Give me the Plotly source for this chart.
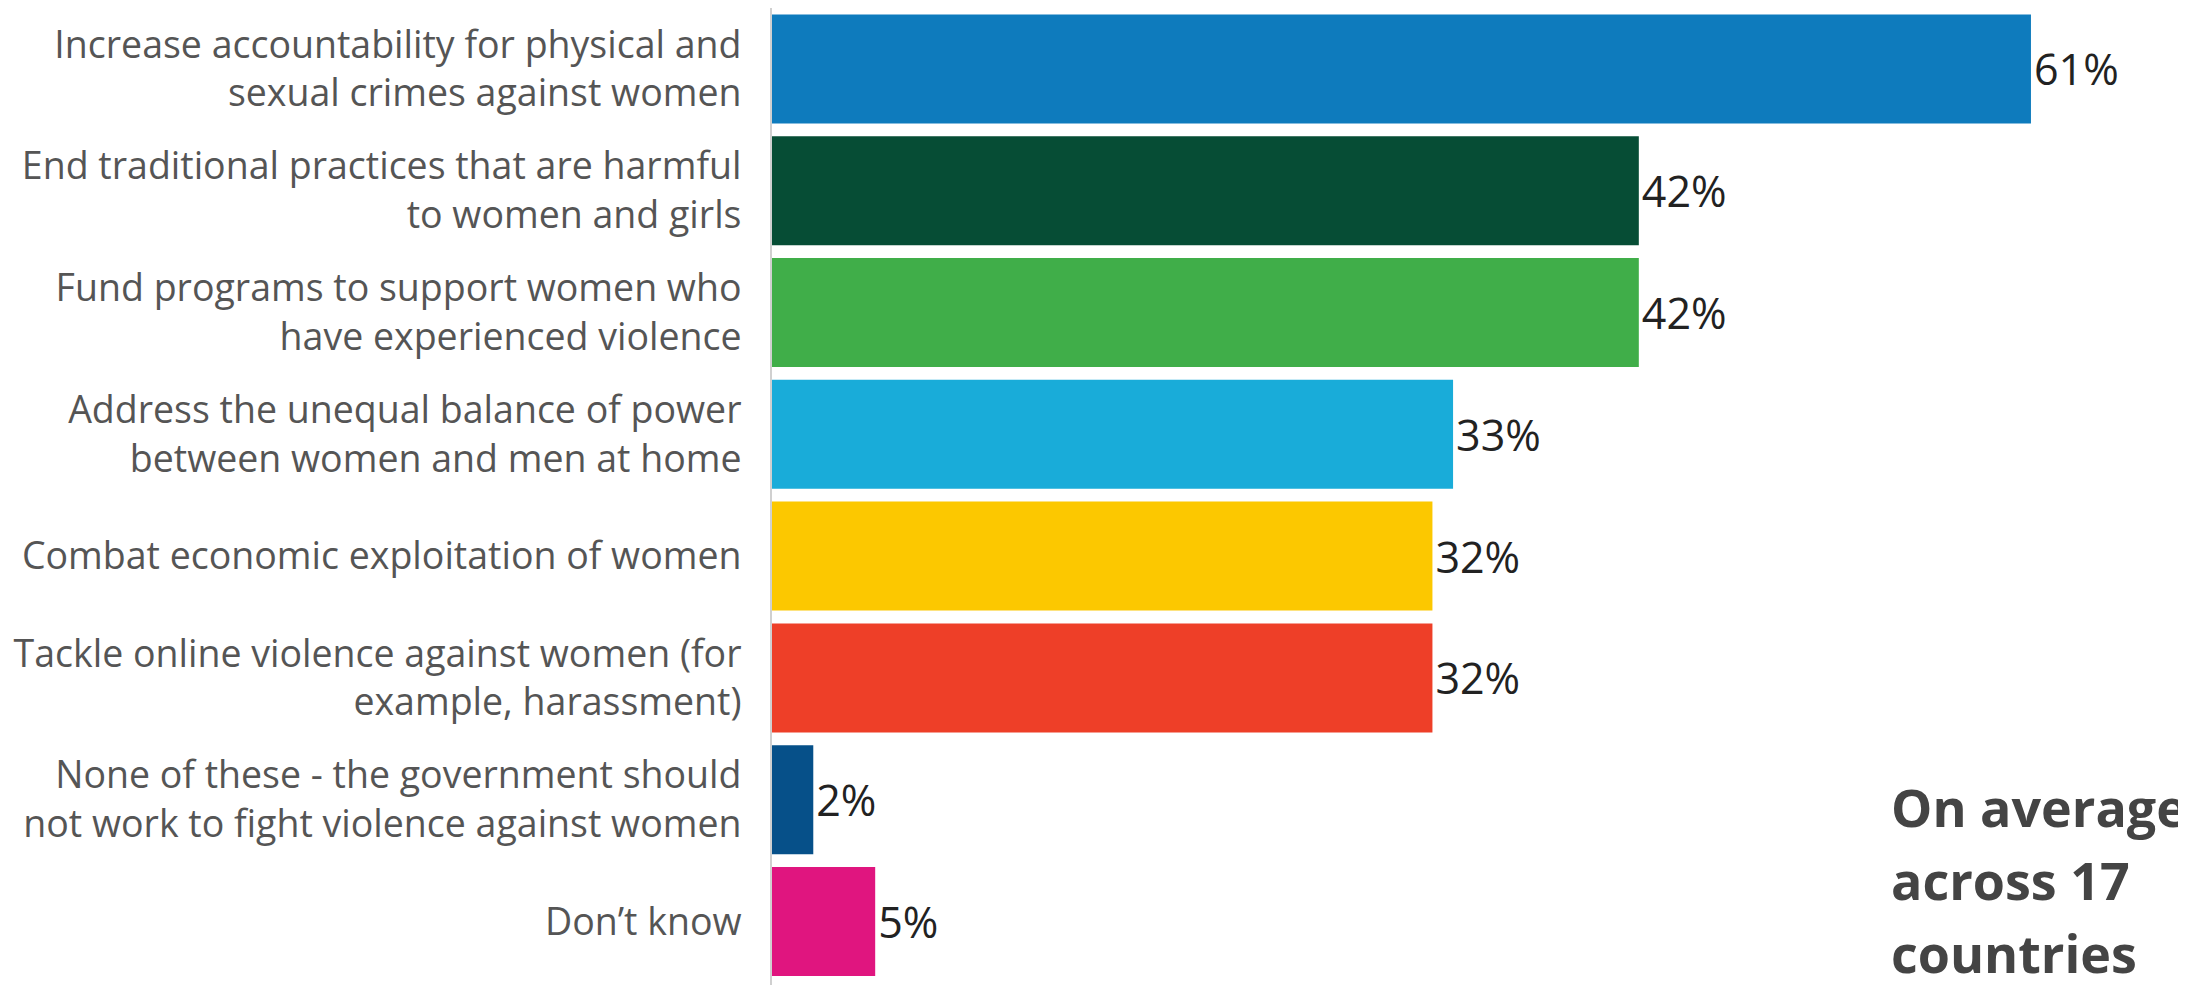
import plotly.graph_objects as go

categories = [
    "Increase accountability for physical and<br>sexual crimes against women",
    "End traditional practices that are harmful<br>to women and girls",
    "Fund programs to support women who<br>have experienced violence",
    "Address the unequal balance of power<br>between women and men at home",
    "Combat economic exploitation of women",
    "Tackle online violence against women (for<br>example, harassment)",
    "None of these - the government should<br>not work to fight violence against women",
    "Don’t know",
]
values = [61, 42, 42, 33, 32, 32, 2, 5]
labels = ["61%", "42%", "42%", "33%", "32%", "32%", "2%", "5%"]
colors = ["#0E7BBD", "#064D35", "#40AE49", "#19ACD9", "#FCC800", "#EE3F28", "#065089", "#E0157F"]
note_lines = ["On average", "across 17", "countries"]

W, H = 2186, 985
L = 764

fig = go.Figure(go.Bar(
    x=values, y=categories, orientation="h",
    marker=dict(color=colors, line=dict(width=0)),
    text=labels, textposition="outside", cliponaxis=False,
    textfont=dict(family="Open Sans", size=43, color="#222222"),
    width=0.895,
))

note_centers = [798, 871, 944]
annotations = []
for line, cy in zip(note_lines, note_centers):
    annotations.append(dict(
        text="<b>" + line + "</b>",
        xref="paper", yref="paper", x=(1882 - L) / (W - L), y=(H - cy) / H,
        xanchor="left", yanchor="middle", align="left", showarrow=False,
        borderpad=0,
        font=dict(family="Open Sans", size=52, color="#444444"),
    ))

fig.update_layout(
    width=W, height=H,
    margin=dict(l=L, r=0, t=0, b=0),
    paper_bgcolor="white", plot_bgcolor="white",
    showlegend=False,
    font=dict(family="Open Sans", color="#555555"),
    xaxis=dict(range=[0, 68.9], visible=False, showgrid=False, zeroline=False),
    yaxis=dict(range=[7.587, -0.5], showgrid=False, zeroline=False,
               showline=True, linecolor="#d0d0d0", linewidth=2,
               ticks="", ticklabelstandoff=21,
               tickfont=dict(family="Open Sans", size=37.5, color="#555555")),
    annotations=annotations,
)

fig.write_html("out.html")
